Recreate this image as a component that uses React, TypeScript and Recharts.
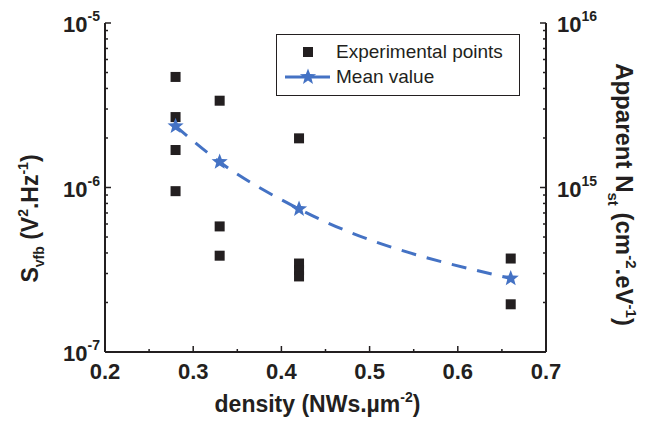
import React from 'react';
import { ComposedChart, Scatter, Line, XAxis, YAxis, Legend, Label } from 'recharts';

const EXP_DENSITY = [0.28, 0.28, 0.28, 0.28, 0.33, 0.33, 0.33, 0.42, 0.42, 0.42, 0.42, 0.66, 0.66];
const EXP_SVFB = [4.7e-6, 2.68e-6, 1.69e-6, 9.5e-7, 3.37e-6, 5.8e-7, 3.85e-7, 1.99e-6, 3.45e-7, 3.15e-7, 2.88e-7, 3.7e-7, 1.95e-7];

// mean value curve
const MEAN_DENSITY = [0.28, 0.33, 0.42, 0.66];
const MEAN_SVFB = [2.36e-6, 1.43e-6, 7.4e-7, 2.8e-7];

const X_TICKS = [0.2, 0.3, 0.4, 0.5, 0.6, 0.7];
const X_MINOR = [0.25, 0.35, 0.45, 0.55, 0.65];
const LEFT_DECADES = [-7, -6, -5];
const RIGHT_DECADES = [14, 15, 16];
const RIGHT_LABELED = [15, 16];

const INK = '#231f20';
const BLUE = '#4472c4';
const FONT = '"Liberation Sans", Arial, sans-serif';

const expData = EXP_DENSITY.map((d, i) => ({ density: d, svfb: EXP_SVFB[i] }));
const meanData = MEAN_DENSITY.map((d, i) => ({ density: d, svfb: MEAN_SVFB[i] }));

// log ticks: decades plus 2..9 minors
const logTicks = (decades: number[]) => {
  const out: number[] = [];
  decades.forEach((e, i) => {
    out.push(Math.pow(10, e));
    if (i < decades.length - 1) {
      for (let m = 2; m <= 9; m++) out.push(m * Math.pow(10, e));
    }
  });
  return out;
};

const isDecade = (v: number) => {
  const lg = Math.log10(v);
  return Math.abs(lg - Math.round(lg)) < 1e-6;
};

const starPath = (cx: number, cy: number, R: number, r: number) => {
  let d = '';
  for (let k = 0; k < 10; k++) {
    const rad = k % 2 === 0 ? R : r;
    const a = -Math.PI / 2 + (k * Math.PI) / 5;
    d += (k === 0 ? 'M' : 'L') + (cx + rad * Math.cos(a)).toFixed(2) + ',' + (cy + rad * Math.sin(a)).toFixed(2);
  }
  return d + 'Z';
};

const Square = (p: any) => <rect x={p.cx - 5} y={p.cy - 5} width={10} height={10} fill={INK} />;

const StarDot = (p: any) => {
  if (p.cx == null || p.cy == null) return <g key={p.key} />;
  return <path key={p.key} d={starPath(p.cx, p.cy, 8.5, 3.6)} fill={BLUE} />;
};

const LeftTick = (p: any) => {
  const v = p.payload.value;
  const major = isDecade(v);
  return (
    <g>
      <line x1={p.x} x2={p.x + (major ? 6 : 3)} y1={p.y} y2={p.y} stroke={INK} strokeWidth={1.5} />
      {major && (
        <text x={p.x - 5} y={p.y + 9} textAnchor="end" fontSize={22} fontWeight="bold" fill={INK} fontFamily={FONT}>
          10<tspan dy={-11} fontSize={14}>{Math.round(Math.log10(v))}</tspan>
        </text>
      )}
    </g>
  );
};

const RightTick = (p: any) => {
  const v = p.payload.value;
  const major = isDecade(v);
  const e = Math.round(Math.log10(v));
  return (
    <g>
      <line x1={p.x} x2={p.x - (major ? 6 : 3)} y1={p.y} y2={p.y} stroke={INK} strokeWidth={1.5} />
      {major && RIGHT_LABELED.includes(e) && (
        <text x={p.x + 11} y={p.y + 9} textAnchor="start" fontSize={22} fontWeight="bold" fill={INK} fontFamily={FONT}>
          10<tspan dy={-11} fontSize={14}>{e}</tspan>
        </text>
      )}
    </g>
  );
};

const BottomTick = (p: any) => {
  const v = p.payload.value;
  const major = X_TICKS.some((t) => Math.abs(t - v) < 1e-9);
  return (
    <g>
      <line x1={p.x} x2={p.x} y1={p.y} y2={p.y - (major ? 6 : 3)} stroke={INK} strokeWidth={1.5} />
      {major && (
        <text x={p.x} y={p.y + 27} textAnchor="middle" fontSize={22} fontWeight="bold" fill={INK} fontFamily={FONT}>
          {v.toFixed(1)}
        </text>
      )}
    </g>
  );
};

const TopTick = (p: any) => {
  const v = p.payload.value;
  const major = X_TICKS.some((t) => Math.abs(t - v) < 1e-9);
  return <line x1={p.x} x2={p.x} y1={p.y} y2={p.y + (major ? 6 : 3)} stroke={INK} strokeWidth={1.5} />;
};

const XTitle = (p: any) => {
  const vb = p.viewBox;
  return (
    <text x={vb.x + vb.width / 2 - 8} y={vb.y + 60} textAnchor="middle" fontSize={23} fontWeight="bold" fill={INK} fontFamily={FONT}>
      density (NWs.µm<tspan dy={-10} fontSize={14}>-2</tspan>
      <tspan dy={10}>)</tspan>
    </text>
  );
};

const LeftTitle = (p: any) => {
  const vb = p.viewBox;
  const cx = 30;
  const cy = vb.y + vb.height / 2 + 31;
  return (
    <text transform={`translate(${cx},${cy}) rotate(-90)`} dy={8} textAnchor="middle" fontSize={23} fontWeight="bold" fill={INK} fontFamily={FONT}>
      S<tspan dy={6} fontSize={14}>vfb</tspan>
      <tspan dy={-6}> (V</tspan>
      <tspan dy={-10} fontSize={14}>2</tspan>
      <tspan dy={10}>.Hz</tspan>
      <tspan dy={-10} fontSize={14}>-1</tspan>
      <tspan dy={10}>)</tspan>
    </text>
  );
};

const RightTitle = (p: any) => {
  const vb = p.viewBox;
  const cx = vb.x + 78;
  const cy = vb.y + vb.height / 2 + 7;
  return (
    <text transform={`translate(${cx},${cy}) rotate(90)`} dy={8} textAnchor="middle" fontSize={24} fontWeight="bold" fill={INK} fontFamily={FONT}>
      Apparent N<tspan dy={8} fontSize={15}>st</tspan>
      <tspan dy={-8}> (cm</tspan>
      <tspan dy={-10} fontSize={15}>-2</tspan>
      <tspan dy={10}>.eV</tspan>
      <tspan dy={-10} fontSize={15}>-1</tspan>
      <tspan dy={10}>)</tspan>
    </text>
  );
};

const LegendBox = () => (
  <svg width={244} height={62} style={{ display: 'block' }}>
    <rect x={0.5} y={0.5} width={243} height={61} fill="#fff" stroke={INK} strokeWidth={1} />
    <rect x={27} y={13} width={10} height={10} fill={INK} />
    <text x={60} y={24} fontSize={19} fill={INK} fontFamily={FONT}>Experimental points</text>
    <line x1={9} x2={54} y1={43} y2={43} stroke={BLUE} strokeWidth={3} />
    <path d={starPath(32, 43, 8.5, 3.6)} fill={BLUE} />
    <text x={60} y={49} fontSize={19} fill={INK} fontFamily={FONT}>Mean value</text>
  </svg>
);

export default function App() {
  return (
    <div style={{ width: 660, height: 422, background: '#fff' }}>
      <style>{'body{margin:0}'}</style>
      <ComposedChart width={660} height={422} margin={{ top: 23, right: 0, bottom: 0, left: 0 }}>
        <XAxis
          xAxisId="bottom"
          dataKey="density"
          type="number"
          domain={[0.2, 0.7]}
          allowDataOverflow
          ticks={[...X_TICKS, ...X_MINOR].sort((a, b) => a - b)}
          interval={0}
          tick={BottomTick}
          tickLine={false}
          tickSize={0}
          tickMargin={0}
          height={70}
          axisLine={{ stroke: INK, strokeWidth: 2 }}
        >
          <Label content={XTitle} />
        </XAxis>
        <XAxis
          xAxisId="top"
          orientation="top"
          type="number"
          domain={[0.2, 0.7]}
          allowDataOverflow
          ticks={[...X_TICKS, ...X_MINOR].sort((a, b) => a - b)}
          interval={0}
          tick={TopTick}
          tickLine={false}
          tickSize={0}
          tickMargin={0}
          height={0}
          axisLine={{ stroke: INK, strokeWidth: 2 }}
        />
        <YAxis
          yAxisId="left"
          scale="log"
          type="number"
          domain={[1e-7, 1e-5]}
          allowDataOverflow
          ticks={logTicks(LEFT_DECADES)}
          interval={0}
          tick={LeftTick}
          tickLine={false}
          tickSize={0}
          tickMargin={0}
          width={105}
          axisLine={{ stroke: INK, strokeWidth: 2 }}
        >
          <Label content={LeftTitle} />
        </YAxis>
        <YAxis
          yAxisId="right"
          orientation="right"
          scale="log"
          type="number"
          domain={[1e14, 1e16]}
          allowDataOverflow
          ticks={logTicks(RIGHT_DECADES)}
          interval={0}
          tick={RightTick}
          tickLine={false}
          tickSize={0}
          tickMargin={0}
          width={114}
          axisLine={{ stroke: INK, strokeWidth: 2 }}
        >
          <Label content={RightTitle} />
        </YAxis>
        <Legend
          layout="horizontal"
          verticalAlign="middle"
          align="center"
          wrapperStyle={{ top: 34, left: 276, width: 244, height: 62 }}
          content={LegendBox}
        />
        <Scatter
          name="Experimental points"
          data={expData}
          dataKey="svfb"
          xAxisId="bottom"
          yAxisId="left"
          shape={Square}
          isAnimationActive={false}
        />
        <Line
          name="Mean value"
          data={meanData}
          dataKey="svfb"
          xAxisId="bottom"
          yAxisId="left"
          type="monotone"
          stroke={BLUE}
          strokeWidth={3}
          strokeDasharray="15 11"
          dot={StarDot}
          activeDot={false}
          isAnimationActive={false}
        />
      </ComposedChart>
    </div>
  );
}
